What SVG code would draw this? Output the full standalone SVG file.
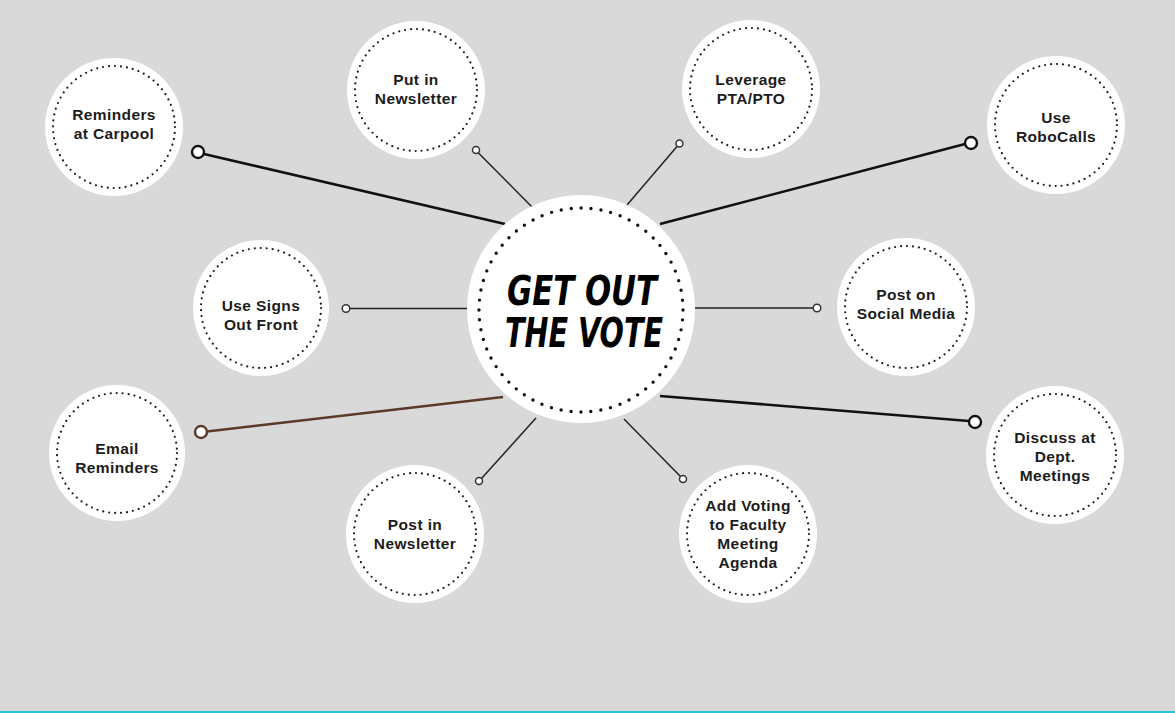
<svg xmlns="http://www.w3.org/2000/svg" width="1175" height="713" viewBox="0 0 1175 713">
<style>
.bg{fill:#d9d9d9}
.disc{fill:#ffffff}
.ring{fill:none;stroke:#1a1a1a;stroke-width:2.2;stroke-linecap:round;stroke-dasharray:0 6}
.bigring{fill:none;stroke:#111;stroke-width:3.4;stroke-linecap:round;stroke-dasharray:0 10}
.lbl{font-family:"Liberation Sans",Arial,sans-serif;font-weight:bold;font-size:15.5px;letter-spacing:0.4px;fill:#1c1c1c;text-anchor:middle}
.title{font-family:"DejaVu Sans Condensed","DejaVu Sans",sans-serif;font-weight:bold;font-style:oblique;font-size:40px;fill:#000;text-anchor:middle}
.thick{stroke:#111;stroke-width:2.6;fill:none}
.thin{stroke:#222;stroke-width:1.5;fill:none}
.endL{fill:#fff;stroke:#111;stroke-width:2.4}
.endS{fill:#fff;stroke:#333;stroke-width:1.5}
</style>
<rect class="bg" x="0" y="0" width="1175" height="713"/>
<rect x="0" y="711" width="1175" height="2" fill="#27c8cf"/>
<g id="connectors">
  <line class="thick" x1="204" y1="154" x2="505" y2="224"/>
  <circle class="endL" cx="198" cy="152" r="6"/>
  <line class="thick" x1="965" y1="144" x2="660" y2="224"/>
  <circle class="endL" cx="971" cy="143" r="6"/>
  <line x1="207" y1="431.5" x2="503" y2="397" stroke="#5b3a29" stroke-width="2.6"/>
  <circle cx="201" cy="432" r="6" fill="#fff" stroke="#5b3a29" stroke-width="2.4"/>
  <line class="thick" x1="969" y1="421" x2="660" y2="396"/>
  <circle class="endL" cx="975" cy="422" r="6"/>
  <line class="thin" x1="349" y1="308.5" x2="467" y2="308.5"/>
  <circle class="endS" cx="346" cy="308.5" r="3.8"/>
  <line class="thin" x1="695" y1="308" x2="814" y2="308"/>
  <circle class="endS" cx="817" cy="308" r="3.8"/>
  <line class="thin" x1="478" y1="152.5" x2="533" y2="208"/>
  <circle class="endS" cx="476" cy="150" r="3.5"/>
  <line class="thin" x1="677" y1="146.5" x2="627" y2="205"/>
  <circle class="endS" cx="679.5" cy="143.5" r="3.5"/>
  <line class="thin" x1="481.5" y1="478.5" x2="536" y2="418"/>
  <circle class="endS" cx="479" cy="481" r="3.5"/>
  <line class="thin" x1="680.5" y1="476.5" x2="624" y2="419"/>
  <circle class="endS" cx="683" cy="479" r="3.5"/>
</g>
<g id="center">
  <circle class="disc" cx="581" cy="309" r="114"/>
  <circle class="bigring" cx="581" cy="310" r="102"/>
  <text class="title" x="582" y="305" textLength="150" lengthAdjust="spacingAndGlyphs">GET OUT</text>
  <text class="title" x="584" y="347" textLength="158" lengthAdjust="spacingAndGlyphs">THE VOTE</text>
</g>
<g id="n-carpool">
  <circle class="disc" cx="114" cy="127" r="69"/>
  <circle class="ring" cx="114" cy="127" r="61"/>
  <text class="lbl" x="114" y="119.5">Reminders</text>
  <text class="lbl" x="114" y="138.5">at Carpool</text>
</g>
<g id="n-put-newsletter">
  <circle class="disc" cx="416" cy="90" r="69"/>
  <circle class="ring" cx="416" cy="90" r="61"/>
  <text class="lbl" x="416" y="85">Put in</text>
  <text class="lbl" x="416" y="104">Newsletter</text>
</g>
<g id="n-pta">
  <circle class="disc" cx="751" cy="89" r="69"/>
  <circle class="ring" cx="751" cy="89" r="61"/>
  <text class="lbl" x="751" y="84.5">Leverage</text>
  <text class="lbl" x="751" y="103.5">PTA/PTO</text>
</g>
<g id="n-robocalls">
  <circle class="disc" cx="1056" cy="125" r="69"/>
  <circle class="ring" cx="1056" cy="125" r="61"/>
  <text class="lbl" x="1056" y="123">Use</text>
  <text class="lbl" x="1056" y="142">RoboCalls</text>
</g>
<g id="n-signs">
  <circle class="disc" cx="261" cy="308" r="68"/>
  <circle class="ring" cx="261" cy="308" r="60"/>
  <text class="lbl" x="261" y="310.5">Use Signs</text>
  <text class="lbl" x="261" y="329.5">Out Front</text>
</g>
<g id="n-social">
  <circle class="disc" cx="906" cy="307" r="69"/>
  <circle class="ring" cx="906" cy="307" r="61"/>
  <text class="lbl" x="906" y="299.5">Post on</text>
  <text class="lbl" x="906" y="318.5">Social Media</text>
</g>
<g id="n-email">
  <circle class="disc" cx="117" cy="453" r="68"/>
  <circle class="ring" cx="117" cy="453" r="60"/>
  <text class="lbl" x="117" y="454">Email</text>
  <text class="lbl" x="117" y="473">Reminders</text>
</g>
<g id="n-dept">
  <circle class="disc" cx="1055" cy="455" r="69"/>
  <circle class="ring" cx="1055" cy="455" r="61"/>
  <text class="lbl" x="1055" y="442.5">Discuss at</text>
  <text class="lbl" x="1055" y="461.5">Dept.</text>
  <text class="lbl" x="1055" y="480.5">Meetings</text>
</g>
<g id="n-post-newsletter">
  <circle class="disc" cx="415" cy="534" r="69"/>
  <circle class="ring" cx="415" cy="534" r="61"/>
  <text class="lbl" x="415" y="529.5">Post in</text>
  <text class="lbl" x="415" y="548.5">Newsletter</text>
</g>
<g id="n-faculty">
  <circle class="disc" cx="748" cy="534" r="69"/>
  <circle class="ring" cx="748" cy="534" r="61"/>
  <text class="lbl" x="748" y="511">Add Voting</text>
  <text class="lbl" x="748" y="530">to Faculty</text>
  <text class="lbl" x="748" y="549">Meeting</text>
  <text class="lbl" x="748" y="568">Agenda</text>
</g>
</svg>
